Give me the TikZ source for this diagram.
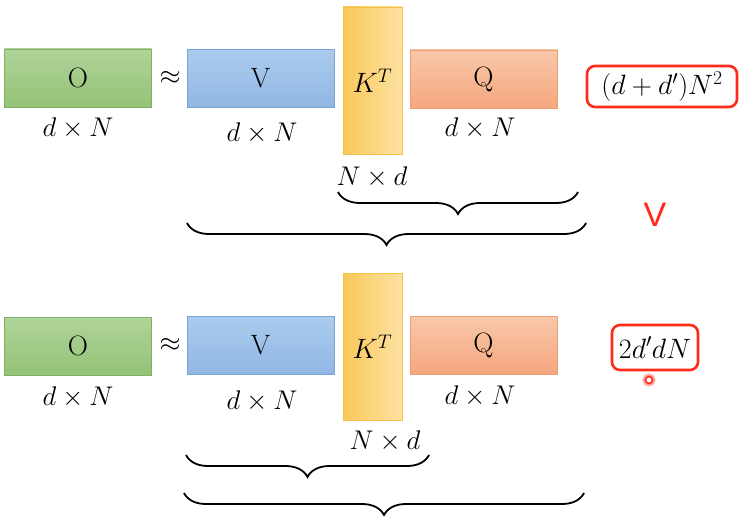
\documentclass[tikz,border=0pt]{standalone}
\usepackage{fix-cm}
\usepackage{fontspec}
\newfontfamily\markfont{Liberation Sans}
\usetikzlibrary{decorations.pathreplacing}
\definecolor{gtop}{HTML}{B0D499}
\definecolor{gbot}{HTML}{94C277}
\definecolor{gline}{HTML}{7FB260}
\definecolor{btop}{HTML}{ABCBEE}
\definecolor{bbot}{HTML}{90B7E3}
\definecolor{bline}{HTML}{7AA3D6}
\definecolor{ytop}{HTML}{FAC858}
\definecolor{ybot}{HTML}{FDE2A3}
\definecolor{yline}{HTML}{F3C048}
\definecolor{otop}{HTML}{F8C8AA}
\definecolor{obot}{HTML}{F5A77E}
\definecolor{oline}{HTML}{EE9E72}
\definecolor{myred}{HTML}{FF2A1A}
\tikzset{
  mat/.style={draw, line width=0.8pt, inner sep=0pt, font=\fontsize{28}{32}\selectfont},
  wide/.style={mat, minimum width=147pt, minimum height=58pt},
  obox/.style={wide, draw=gline, top color=gtop, bottom color=gbot},
  vbox/.style={wide, draw=bline, top color=btop, bottom color=bbot},
  qbox/.style={wide, draw=oline, top color=otop, bottom color=obot},
  kbox/.style={mat, draw=yline, left color=ytop, right color=ybot, minimum width=59pt, minimum height=147pt, font=\fontsize{28}{32}\selectfont},
  dim/.style={font=\fontsize{27}{31}\selectfont, inner sep=0pt},
  approx/.style={font=\fontsize{27}{31}\selectfont, inner sep=0pt},
  cost/.style={draw=myred, line width=2.6pt, rounded corners=8pt, font=\fontsize{28}{32}\selectfont, inner sep=0pt},
  brc/.style={decorate, decoration={brace, mirror, amplitude=22pt}, line width=1.8pt},
}
\begin{document}
\begin{tikzpicture}[x=1pt, y=-1pt]
\useasboundingbox (0,0) rectangle (743,524);
% top row
\node[obox] (o1) at (78,78) {O};
\node[approx] (a1) at (170,78) {$\approx$};
\node[vbox] (v1) at (260.5,78.5) {V};
\node[kbox] (k1) at (372.5,80.5) {$K^T$};
\node[qbox] (q1) at (483.5,79) {Q};
\node[dim] (lo1) at (78,128) {$d\times N$};
\node[dim] (lv1) at (262,133) {$d\times N$};
\node[dim] (lq1) at (480,128) {$d\times N$};
\node[dim] (lk1) at (372,177) {$N\times d$};
\coordinate (b1s) at (338,192);
\coordinate (b1e) at (578,192);
\coordinate (b2s) at (187,223);
\coordinate (b2e) at (586,223);
\draw[brc] (b1s) -- (b1e);
\draw[brc] (b2s) -- (b2e);
\node[cost, minimum width=150pt, minimum height=41pt] (c1) at (662,86.5) {$(d+d')N^2$};
\node[text=myred, font=\fontsize{34}{38}\markfont, inner sep=0pt] (gt) at (655,215) {V};
% bottom row
\node[obox] (o2) at (78,346) {O};
\node[approx] (a2) at (170,345) {$\approx$};
\node[vbox] (v2) at (260.5,345.5) {V};
\node[kbox] (k2) at (372.5,346.5) {$K^T$};
\node[qbox] (q2) at (483.5,345.5) {Q};
\node[dim] (lo2) at (78,397) {$d\times N$};
\node[dim] (lv2) at (262,401) {$d\times N$};
\node[dim] (lq2) at (480,396) {$d\times N$};
\node[dim] (lk2) at (385,441) {$N\times d$};
\coordinate (b3s) at (186,455);
\coordinate (b3e) at (429,455);
\coordinate (b4s) at (184,493);
\coordinate (b4e) at (584,493);
\draw[brc] (b3s) -- (b3e);
\draw[brc] (b4s) -- (b4e);
\node[cost, minimum width=86pt, minimum height=45pt] (c2) at (655,347.5) {$2d'dN$};
\node[circle, draw=myred!40, line width=3pt, minimum size=10pt, inner sep=0pt] (dotglow) at (649,380) {};
\node[circle, draw=myred, line width=1.6pt, minimum size=7pt, inner sep=0pt] (dot) at (649,380) {};
\end{tikzpicture}
\end{document}
